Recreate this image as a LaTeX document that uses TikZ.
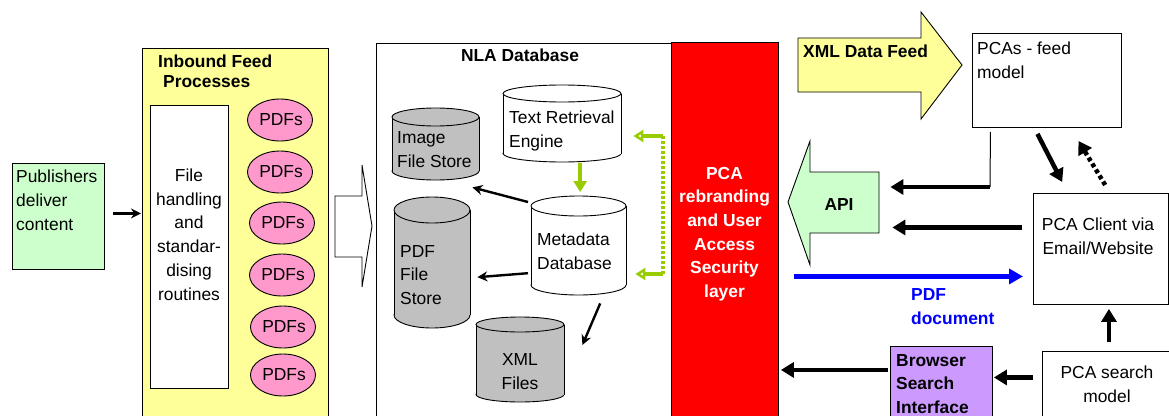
\documentclass[tikz,border=0pt]{standalone}
\usepackage{fontspec}
\setmainfont{Liberation Sans}
\usetikzlibrary{arrows.meta,shapes.geometric}
\definecolor{fyellow}{HTML}{FFFF99}
\definecolor{fgreen}{HTML}{CCFFCC}
\definecolor{fpink}{HTML}{FF99CC}
\definecolor{fgray}{HTML}{C0C0C0}
\definecolor{fred}{HTML}{FF0000}
\definecolor{fpurple}{HTML}{CC99FF}
\definecolor{fblue}{HTML}{0000FF}
\definecolor{flime}{HTML}{99CC00}
\newcommand\dbcyl[7]{%
  \pgfmathsetmacro\cylcx{(#2+#4)/2}%
  \pgfmathsetmacro\cylrx{(#4-#2)/2}%
  \pgfmathsetmacro\cylyt{#3+#6}%
  \pgfmathsetmacro\cylyb{#5-#6}%
  \pgfmathsetmacro\cylw{#4-#2}%
  \pgfmathsetmacro\cylh{#5-#3}%
  \filldraw[fill=#7, line width=0.9pt] (\cylcx,\cylyb) ellipse [x radius=\cylrx, y radius=#6];
  \fill[#7] (#2,\cylyt) rectangle (#4,\cylyb);
  \draw[line width=0.9pt] (#2,\cylyt) -- (#2,\cylyb) (#4,\cylyt) -- (#4,\cylyb);
  \filldraw[fill=#7, line width=0.9pt] (\cylcx,\cylyt) ellipse [x radius=\cylrx, y radius=#6];
  \node[inner sep=0pt, minimum width=\cylw, minimum height=\cylh, anchor=north west] (#1) at (#2,#3) {};
}
\begin{document}
\begin{tikzpicture}[x=1pt,y=-1pt,
  font=\fontsize{17.4}{23.7}\selectfont,
  box/.style={draw=black, line width=0.9pt, inner sep=0pt, anchor=north west},
  txt/.style={inner sep=0pt, align=left, anchor=base west},
  ctxt/.style={inner sep=0pt, align=center, anchor=base},
  bold/.style={font=\bfseries\fontsize{17.4}{23.7}\selectfont},
  pdfe/.style={ellipse, draw=black, line width=0.9pt, fill=fpink, minimum width=65, minimum height=42, inner sep=0pt},
  arrA/.style={-{Stealth[length=10pt,width=10pt]}, line width=2.4pt},
  arrB/.style={-{Triangle[length=13pt,width=15pt]}, line width=4.5pt},
  garr/.style={draw=flime, line width=3.5pt},
]
\useasboundingbox (0,0) rectangle (1169,415);
\clip (0,0) rectangle (1169,415);
\fill[white] (0,0) rectangle (1169,415);

% Publishers
\node[box, fill=fgreen, minimum width=92, minimum height=106] (pub) at (12,163) {};
\node[txt] (pubt) at (16,230) {Publishers\\deliver\\content};

% Inbound feed
\node[box, fill=fyellow, minimum width=186, minimum height=380] (inb) at (142,48) {};
\node[txt, font=\bfseries\fontsize{17.4}{20}\selectfont] (inbt) at (158,87.5) {Inbound Feed\\\hspace*{5pt}Processes};
\node[box, fill=white, minimum width=78, minimum height=283] (fh) at (150,105) {};
\node[ctxt] (fht) at (189,300) {File\\handling\\and\\standar-\\dising\\routines};
\node[pdfe] (p1) at (280,120) {\hspace*{2pt}PDFs};
\node[pdfe] (p2) at (280,172) {\hspace*{2pt}PDFs};
\node[pdfe] (p3) at (282,223) {\hspace*{2pt}PDFs};
\node[pdfe] (p4) at (282,275) {\hspace*{2pt}PDFs};
\node[pdfe] (p5) at (283,327) {\hspace*{2pt}PDFs};
\node[pdfe] (p6) at (283,375) {\hspace*{2pt}PDFs};

% hollow arrow
\draw[fill=white, line width=0.9pt] (335,196) -- (362,196) -- (362,165) -- (372,226) -- (362,287) -- (362,257) -- (335,257) -- cycle;

% NLA database
\node[box, fill=white, minimum width=295, minimum height=385] (nla) at (376,43) {};
\node[ctxt, bold] (nlat) at (520,61.5) {NLA Database};

% red layer
\node[box, fill=fred, minimum width=107, minimum height=385] (red) at (671,42) {};
\node[ctxt, bold, text=white] (redt) at (724.5,297.5) {PCA\\rebranding\\and User\\Access\\Security\\layer};

% cylinders
\dbcyl{tre}{503}{85}{621}{162}{8.5}{white}
\node[txt] (tret) at (509,147) {Text Retrieval\\Engine};
\dbcyl{img}{392}{108}{479}{180}{9}{fgray}
\node[txt] (imgt) at (397,167.5) {Image\\File Store};
\dbcyl{meta}{531}{196}{626}{295}{10}{white}
\node[txt] (metat) at (537,269.5) {Metadata\\Database};
\dbcyl{pdf}{394}{197}{470}{328}{13}{fgray}
\node[txt] (pdft) at (400,304.5) {PDF\\File\\Store};
\dbcyl{xml}{476}{317}{564}{402}{7.5}{fgray}
\node[ctxt] (xmlt) at (520,389.5) {XML\\Files};

% arrows in NLA
\draw[arrA] (pub.east) ++(8,-3) -- ([shift={(-1,-3)}]pub.east -| inb.west);
\draw[arrA] ([shift={(-3,6)}]meta.north west) -- ([shift={(-7,7)}]img.south east);
\draw[arrA] ([shift={(-3,27.5)}]meta.west) -- ([shift={(7,14.5)}]pdf.east);
\draw[arrA] ([shift={(21.5,8)}]meta.south) -- ([shift={(18,28)}]xml.north east);
\draw[garr, -{Triangle[length=11pt,width=13pt]}] ([shift={(18,1)}]tre.south) -- ([shift={(1.5,-4)}]meta.north);
\coordinate (gtop) at (663,136);
\coordinate (gbot) at (663,274);
\draw[garr, dash pattern=on 3pt off 2pt] (gtop) -- (gbot);
\draw[garr, shorten >=12pt, -{Triangle[open,length=10pt,width=12pt]}] (gtop) -- (gtop -| tre.east);
\draw[garr, shorten >=9pt, -{Triangle[open,length=10pt,width=12pt]}] (gbot) -- (gbot -| meta.east);

% XML data feed arrow
\draw[fill=fyellow, line width=0.9pt] (798,38) -- (921,38) -- (921,12) -- (962,65) -- (921,119) -- (921,92) -- (798,92) -- cycle;
\node[txt, bold] (xmlfeed) at (803,57.5) {XML Data Feed};

% PCAs feed model
\node[box, fill=white, minimum width=149, minimum height=94] (feed) at (972,33) {};
\node[txt] (feedt) at (977,78.5) {PCAs - feed\\model};

% API callout
\draw[fill=fgreen, line width=0.9pt] (810,141) -- (788,202) -- (810,265) -- (810,233) -- (879,233) -- (879,172) -- (810,172) -- cycle;
\node[inner sep=0pt, minimum width=69, minimum height=61, anchor=north west] (api) at (810,172) {};
\node[ctxt, bold] (apit) at (839,210.5) {API};

% PCA client
\node[box, fill=white, minimum width=134.5, minimum height=111] (client) at (1033,193) {};
\node[ctxt] (clientt) at (1098,254.5) {PCA Client via\\Email/Website};

% Browser search interface
\node[box, fill=fpurple, minimum width=102, minimum height=80] (browser) at (890,346) {};
\node[txt, bold] (browsert) at (896,413.5) {Browser\\Search\\Interface};

% PCA search model
\node[box, fill=white, minimum width=140, minimum height=80] (search) at (1042,351) {};
\node[ctxt] (searcht) at (1107,402.5) {PCA search\\model};

% right side arrows
\coordinate (fcorner) at (990,187);
\draw[line width=1pt] ([shift={(-56.5,4)}]feed.south) -- (fcorner);
\draw[arrB, shorten >=11pt] (fcorner) -- (fcorner -| api.east);
\draw[arrB] ([shift={(-9.5,6)}]feed.south) -- ([shift={(-38.5,-11)}]client.north);
\draw[arrB, dash pattern=on 4pt off 3pt] ([shift={(4.5,-8)}]client.north) -- ([shift={(31.5,13)}]feed.south);
\path ([shift={(-11,-21.5)}]client.west) coordinate (c1);
\draw[arrB, shorten >=13pt] (c1) -- (c1 -| api.east);
\path ([shift={(0,27.5)}]client.west) coordinate (b1);
\draw[arrB, draw=fblue, -{Triangle[length=14pt,width=15pt]}, shorten <=15pt, shorten >=10pt] (b1 -| red.east) -- (b1);
\node[txt, bold, text=fblue] (pdfdoc) at (911,324.5) {PDF\\document};
\path ([shift={(-2,-16.5)}]browser.west) coordinate (br1);
\draw[arrB, shorten >=2pt] (br1) -- (br1 -| red.east);
\path ([shift={(-9,-14)}]search.west) coordinate (s1);
\draw[arrB, shorten >=1pt] (s1) -- (s1 -| browser.east);
\path ([shift={(-3.5,-9)}]search.north) coordinate (s2);
\draw[arrB, shorten >=4pt] (s2) -- (s2 |- client.south);
\end{tikzpicture}
\end{document}
